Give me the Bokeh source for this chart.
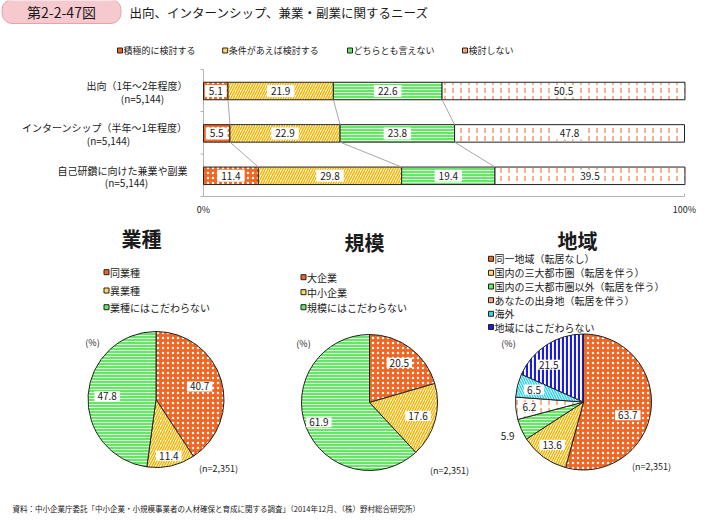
import numpy as np
from bokeh.plotting import figure
from bokeh.models import Range1d, ColumnDataSource
from bokeh.core.properties import value
from bokeh.embed import file_html
from bokeh.resources import INLINE

FONT = "Noto Sans CJK JP"

# ---------------- data ----------------
badge_text = "第2-2-47図"
title_text = "出向、インターンシップ、兼業・副業に関するニーズ"

bar_categories = ["出向（1年～2年程度）", "インターンシップ（半年～1年程度）", "自己研鑽に向けた兼業や副業"]
bar_counts = ["(n=5,144)", "(n=5,144)", "(n=5,144)"]
bar_series = ["積極的に検討する", "条件があえば検討する", "どちらとも言えない", "検討しない"]
active = [5.1, 5.5, 11.4]
conditional = [21.9, 22.9, 29.8]
neutral = [22.6, 23.8, 19.4]
not_considered = [50.5, 47.8, 39.5]
pct_ticks = [0, 100]
pct_tick_labels = ["0%", "100%"]

industry_title = "業種"
industry_labels = ["同業種", "異業種", "業種にはこだわらない"]
industry_values = [40.7, 11.4, 47.8]

scale_title = "規模"
scale_labels = ["大企業", "中小企業", "規模にはこだわらない"]
scale_values = [20.5, 17.6, 61.9]

region_title = "地域"
region_labels = ["同一地域（転居なし）", "国内の三大都市圏（転居を伴う）", "国内の三大都市圏以外（転居を伴う）",
                 "あなたの出身地（転居を伴う）", "海外", "地域にはこだわらない"]
region_values = [63.7, 13.6, 5.9, 6.2, 6.5, 21.5]

pie_unit = "(%)"
pie_count = "(n=2,351)"
source_note = "資料：中小企業庁委託「中小企業・小規模事業者の人材確保と育成に関する調査」（2014年12月、（株）野村総合研究所）"

# ---------------- styles ----------------
ORANGE = "#F26522"
YELLOW = "#F5B400"
GREEN = "#62E862"
CYAN = "#2ED3EA"
BLUE = "#1C1CE0"
INK = "#1a1a1a"

STY = {
    "dots": dict(fill_color=ORANGE, hatch_pattern="dot", hatch_color="white", hatch_scale=5, hatch_weight=1, legend=ORANGE),
    "diag": dict(fill_color="white", hatch_pattern="right_diagonal_line", hatch_color=YELLOW, hatch_scale=5, hatch_weight=1.5, legend="#FFDA60"),
    "hline": dict(fill_color=GREEN, hatch_pattern="horizontal_line", hatch_color="white", hatch_scale=3, hatch_weight=0.8, legend=GREEN),
    "vdash": dict(fill_color="white", hatch_pattern="vertical_dash", hatch_color=ORANGE, hatch_scale=8, hatch_weight=1, legend="#F8A878"),
    "cyan": dict(fill_color="white", hatch_pattern="left_diagonal_line", hatch_color=CYAN, hatch_scale=5, hatch_weight=1.5, legend=CYAN),
    "blue": dict(fill_color="white", hatch_pattern="vertical_line", hatch_color=BLUE, hatch_scale=4, hatch_weight=2.2, legend=BLUE),
}
bar_styles = ["dots", "diag", "hline", "vdash"]

W, H = 706, 520


def X(px):
    return px


def Y(py):
    return H - py


p = figure(width=W, height=H, x_range=Range1d(0, W), y_range=Range1d(0, H),
           output_backend="svg", toolbar_location=None, min_border=0,
           x_axis_type=None, y_axis_type=None)
p.outline_line_color = None
p.grid.grid_line_color = None
p.background_fill_color = "white"
p.border_fill_color = "white"

# percentage scale for the stacked bars
PCT0, PCT100 = X(203), X(684)
k = (PCT100 - PCT0) / 100.0
p.extra_x_ranges = {"pct": Range1d(start=-PCT0 / k, end=(W - PCT0) / k)}


def txt(x, y, s, size="10px", align="left", color=INK, style="normal", **kw):
    p.text(x=[x], y=[y], text=[s], text_font=value(FONT), text_font_size=size,
           text_align=align, text_baseline="middle", text_color=color,
           text_font_style=style, **kw)


def fill_style(name):
    s = STY[name]
    return {kk: vv for kk, vv in s.items() if kk != "legend"}


# ---------------- header ----------------
txt(X(61), Y(11), badge_text, size="14px", align="center",
    background_fill_color="#F6C9CF", border_line_color="#E7A2AC",
    padding=dict(x=25, y=2), border_radius=10)
txt(X(129), Y(12), title_text, size="12.5px")

# top legend
leg_x = [119.5, 224.7, 349.5, 464.5]
for i, name in enumerate(bar_series):
    p.rect(x=[X(leg_x[i])], y=[Y(50)], width=5, height=5,
           fill_color=STY[bar_styles[i]]["legend"], line_color="#222", line_width=1)
    txt(X(leg_x[i] + 3.5), Y(50), name, size="9px")

# ---------------- stacked bars ----------------
BAR_H = 17.5
bar_y = [Y(90.5 + 42.4 * i) for i in range(3)]
vals = np.array([active, conditional, neutral, not_considered], dtype=float)
rights = np.cumsum(vals, axis=0)
lefts = rights - vals

# axis lines
AX = "#B4B4B4"
p.segment(x0=[X(203)], y0=[Y(69)], x1=[X(203)], y1=[Y(196)], line_color=AX, line_width=1)
for ty in [69, 111, 153.5, 196]:
    p.segment(x0=[X(200)], y0=[Y(ty)], x1=[X(203)], y1=[Y(ty)], line_color=AX, line_width=1)
p.segment(x0=[pct_ticks[0]], y0=[Y(196)], x1=[pct_ticks[-1]], y1=[Y(196)],
          line_color=AX, line_width=1, x_range_name="pct")
p.segment(x0=pct_ticks, y0=[Y(196)] * len(pct_ticks), x1=pct_ticks, y1=[Y(193)] * len(pct_ticks),
          line_color=AX, line_width=1, x_range_name="pct")
p.text(x=pct_ticks, y=[Y(208.5)] * len(pct_ticks), text=pct_tick_labels, text_font=value(FONT),
       text_font_size="9px", text_align="center", text_baseline="middle", text_color=INK,
       x_range_name="pct")

for s, name in enumerate(bar_styles):
    src = ColumnDataSource(dict(y=bar_y, left=lefts[s], right=rights[s]))
    p.hbar(y="y", left="left", right="right", height=BAR_H, source=src,
           line_color="#222", line_width=1, x_range_name="pct", **fill_style(name))

# connecting lines between bars
for i in range(2):
    for j in range(3):
        p.segment(x0=[rights[j][i]], y0=[bar_y[i] - BAR_H / 2], x1=[rights[j][i + 1]],
                  y1=[bar_y[i + 1] + BAR_H / 2], line_color="#A8A8A8", line_width=1,
                  x_range_name="pct")

# value labels
for s in range(4):
    src = ColumnDataSource(dict(x=(lefts[s] + rights[s]) / 2, y=bar_y,
                                t=[f"{v:.1f}" for v in vals[s]]))
    p.text(x="x", y="y", text="t", source=src, text_font=value(FONT), text_font_size="10px",
           text_align="center", text_baseline="middle", text_color=INK,
           background_fill_color="white", padding=dict(x=4, y=2), x_range_name="pct")

# category labels
count_cx = [142, 108, 126]
for i in range(3):
    txt(X(187), bar_y[i] + 5.5, bar_categories[i], size="10px", align="right")
    txt(X(count_cx[i]), bar_y[i] - 7, bar_counts[i], size="10px", align="center")

# ---------------- pies ----------------
pies = [
    dict(title=industry_title, labels=industry_labels, values=industry_values,
         styles=["dots", "diag", "hline"], c=(155.5, 399), r=68,
         lr=[0.67, 0.85, 0.72], la=[0, 0, 0],
         tpos=(141, 238), legx=106, legy=[271.7, 290, 306.7], unit=(92, 342), n=(218, 468)),
    dict(title=scale_title, labels=scale_labels, values=scale_values,
         styles=["dots", "diag", "hline"], c=(369, 402), r=68,
         lr=[0.73, 0.74, 0.8], la=[0, 0, 0],
         tpos=(364, 242), legx=303, legy=[276.7, 291.7, 306.7], unit=(303, 343), n=(449, 470)),
    dict(title=region_title, labels=region_labels, values=region_values,
         styles=["dots", "diag", "hline", "vdash", "cyan", "blue"], c=(583, 401.5), r=68,
         lr=[0.68, 0.78, 1.22, 0.8, 0.75, 0.75], la=[-9, 0, 0, 0, 0, 10],
         tpos=(577, 240), legx=490.5, legy=[258.3, 272.3, 286, 299.7, 313.3, 326.5],
         unit=(508, 343), n=(651, 466)),
]

for pie in pies:
    v = np.array(pie["values"], dtype=float)
    cum = np.cumsum(v) / v.sum()
    start = np.pi / 2 - 2 * np.pi * np.concatenate([[0.0], cum[:-1]])
    end = np.pi / 2 - 2 * np.pi * cum
    cx, cy = X(pie["c"][0]), Y(pie["c"][1])
    r = pie["r"]
    src = ColumnDataSource(dict(
        start=start, end=end,
        fill=[STY[s]["fill_color"] for s in pie["styles"]],
        hp=[STY[s]["hatch_pattern"] for s in pie["styles"]],
        hc=[STY[s]["hatch_color"] for s in pie["styles"]],
        hs=[STY[s]["hatch_scale"] for s in pie["styles"]],
        hw=[STY[s]["hatch_weight"] for s in pie["styles"]],
    ))
    p.wedge(x=cx, y=cy, radius=r, start_angle="start", end_angle="end", direction="clock",
            source=src, fill_color="fill", hatch_pattern="hp", hatch_color="hc",
            hatch_scale="hs", hatch_weight="hw", line_color="#222", line_width=1)
    mid = (start + end) / 2 + np.radians(pie["la"])
    lr = np.array(pie["lr"])
    lsrc = ColumnDataSource(dict(x=cx + lr * r * np.cos(mid), y=cy + lr * r * np.sin(mid),
                                 t=[f"{x:.1f}" for x in v]))
    p.text(x="x", y="y", text="t", source=lsrc, text_font=value(FONT), text_font_size="10px",
           text_align="center", text_baseline="middle", text_color=INK,
           background_fill_color="white", padding=dict(x=3, y=1))
    # title
    txt(X(pie["tpos"][0]), Y(pie["tpos"][1]), pie["title"], size="20px", align="center", style="bold")
    # legend
    for i, lab in enumerate(pie["labels"]):
        p.rect(x=[X(pie["legx"])], y=[Y(pie["legy"][i])], width=5, height=5,
               fill_color=STY[pie["styles"][i]]["legend"], line_color="#222", line_width=1)
        txt(X(pie["legx"] + 3.5), Y(pie["legy"][i]), lab, size="10px")
    txt(X(pie["unit"][0]), Y(pie["unit"][1]), pie_unit, size="9px", align="center")
    txt(X(pie["n"][0]), Y(pie["n"][1]), pie_count, size="9px", align="center")

# ---------------- footer ----------------
txt(X(12), Y(508), source_note, size="7.5px")

open("out.html", "w").write(file_html(p, INLINE))
